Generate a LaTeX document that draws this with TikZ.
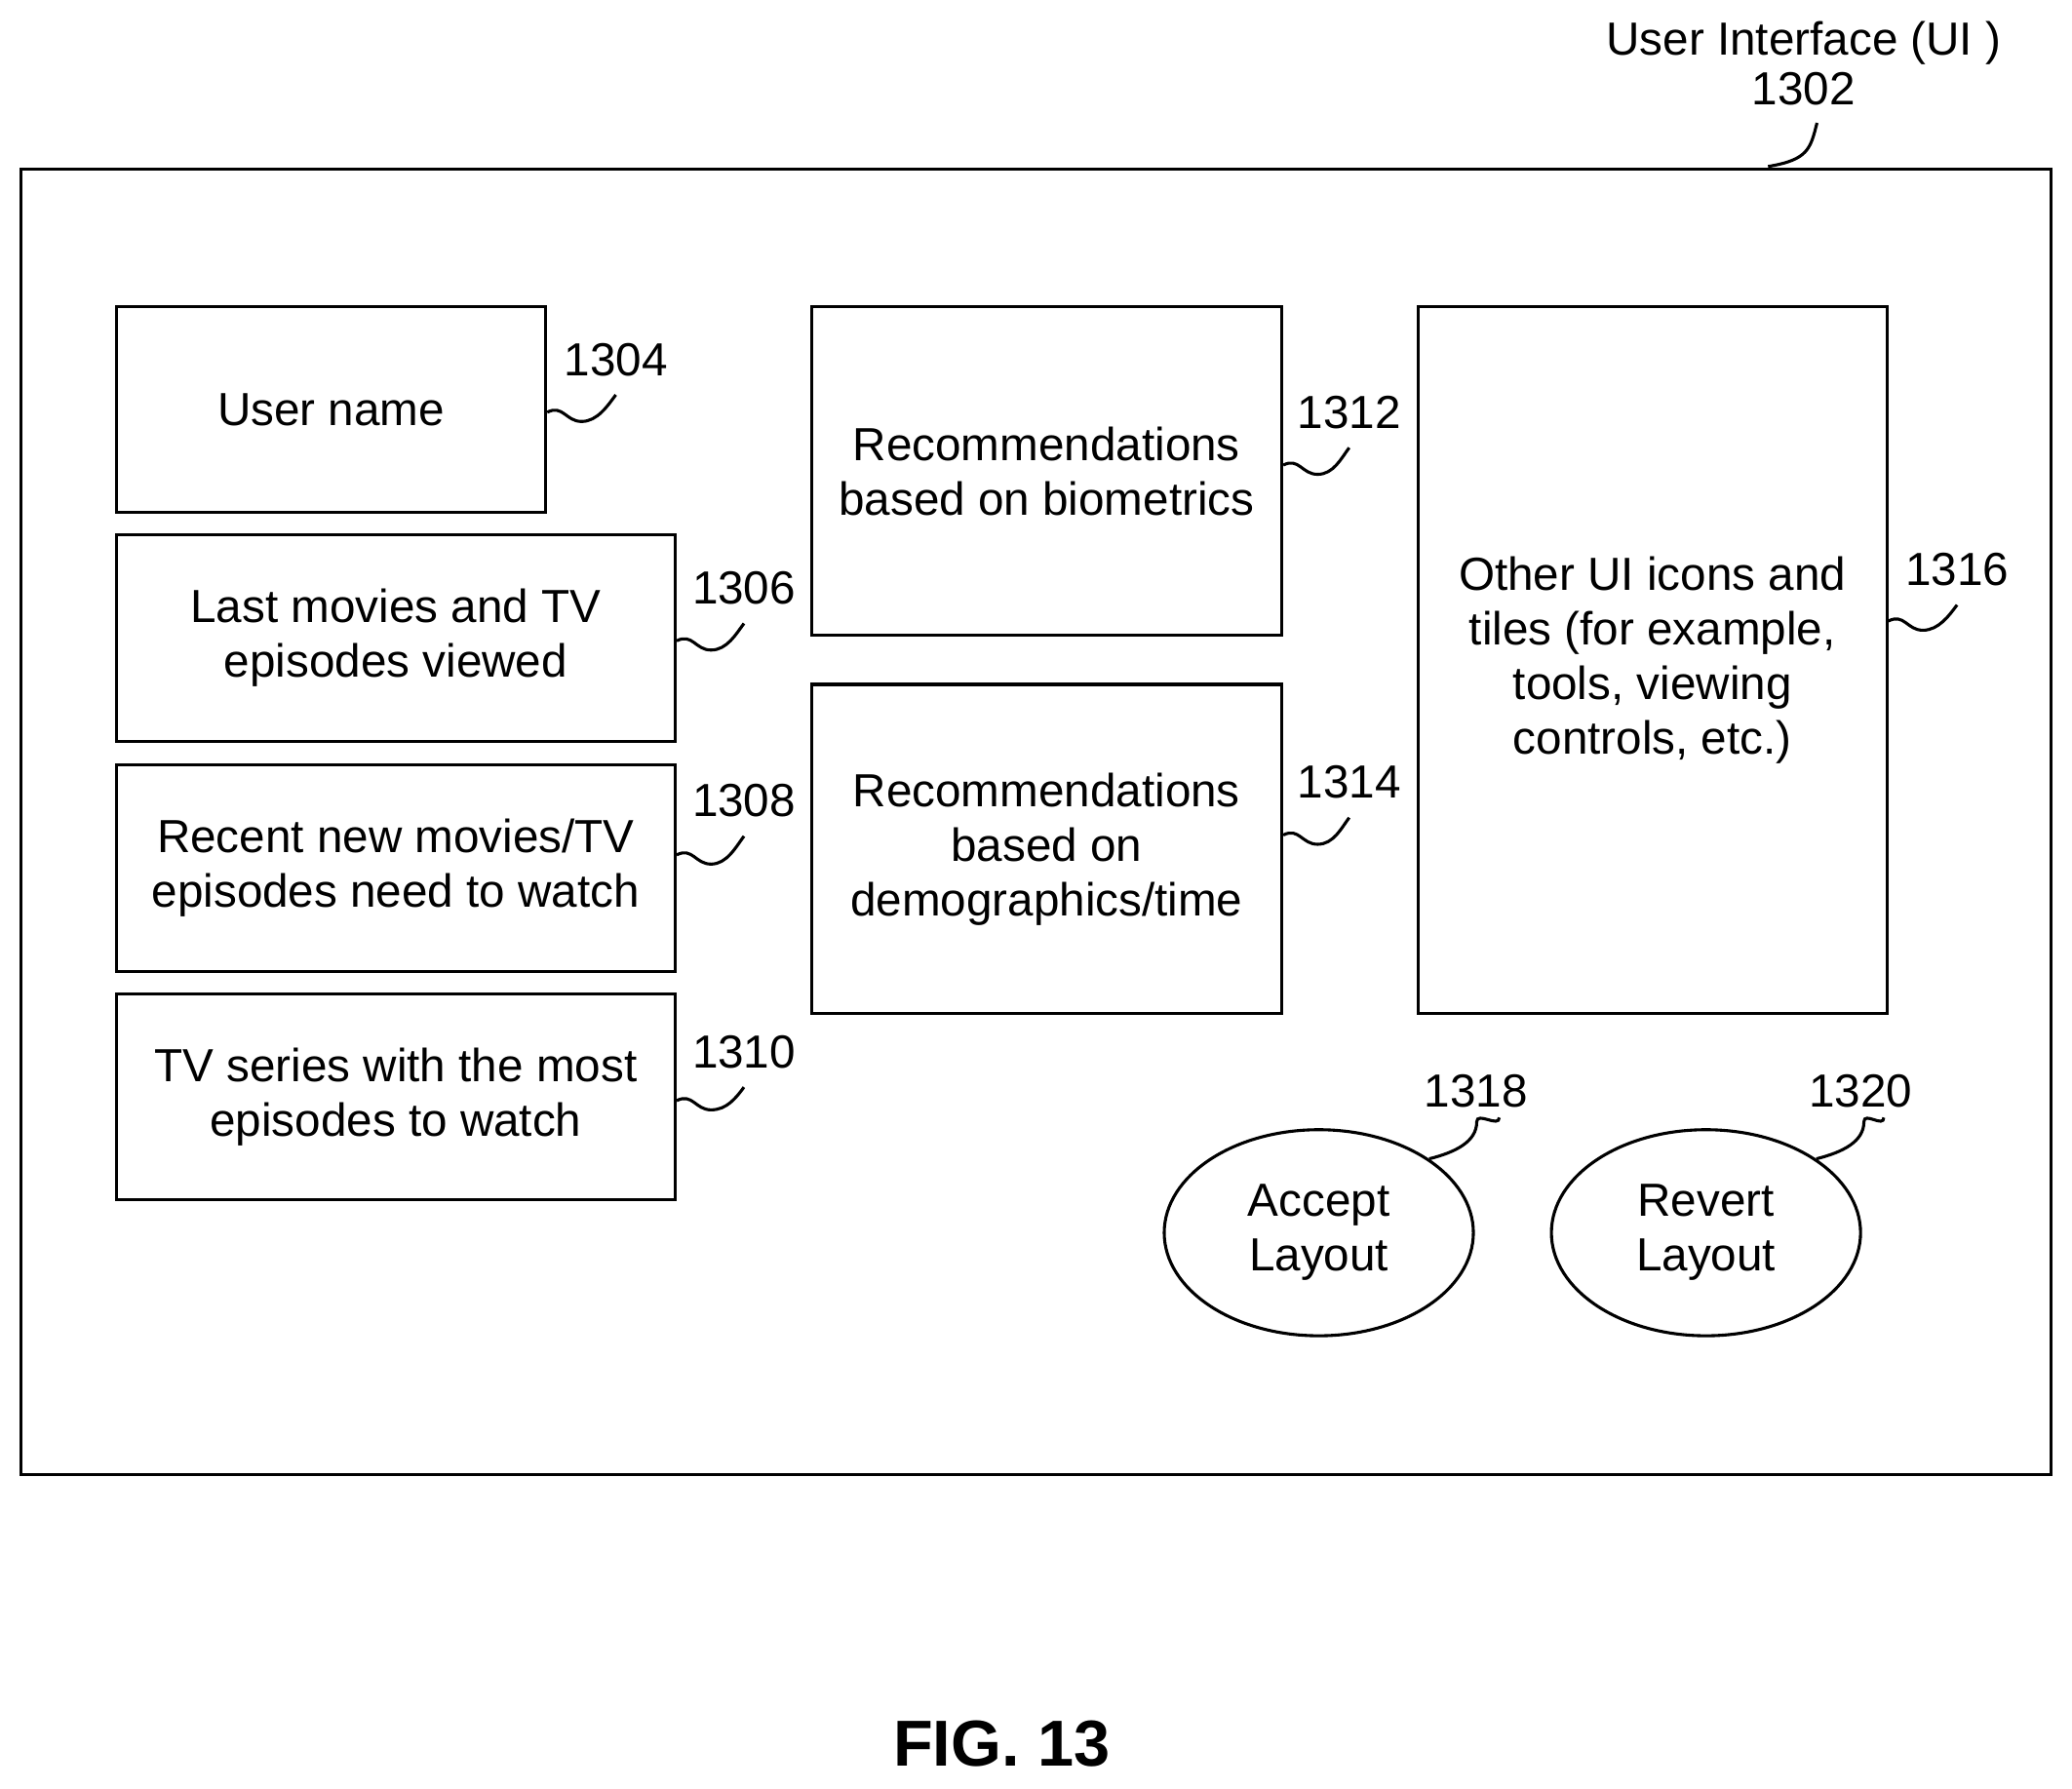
\documentclass[tikz,border=0pt]{standalone}
\usepackage{fontspec}
\setmainfont{Liberation Sans}
\usetikzlibrary{positioning,shapes.geometric}
\tikzset{
    box/.style={draw,line width=1.3pt,align=center,inner sep=0pt},
    oval/.style={draw,ellipse,line width=1.3pt,align=center,inner sep=0pt,
        minimum width=4.68cm,minimum height=3.12cm},
    num/.style={inner sep=1pt},
    wig/.style={line width=1.3pt}
}
\begin{document}
\begin{tikzpicture}[x=0.02cm,y=-0.02cm,font=\fontsize{20}{23.5}\selectfont]
    \useasboundingbox (0,0) rectangle (1568,1354);
    \draw[line width=1.3pt] (16,128) rectangle (1552,1116); %%% UI frame

    \node[align=center] (ui) at (1365,48) {User Interface (UI )\\[-2pt]1302};
    \coordinate (uic) at (1338,126);
    \draw[wig] (uic) .. controls +(30,-5) and +(-5,20) .. (1375,93);

    %%% left column
    \node[box,minimum width=6.5cm,minimum height=3.12cm] (uname) at (250.5,310) {User name};
    \node[box,minimum width=8.46cm,minimum height=3.12cm] (last) at (299.5,483) {Last movies and TV\\episodes viewed};
    \node[box,minimum width=8.46cm,minimum height=3.12cm] (recent) at (299.5,657) {Recent new movies/TV\\episodes need to watch};
    \node[box,minimum width=8.46cm,minimum height=3.12cm] (series) at (299.5,830) {TV series with the most\\episodes to watch};

    %%% middle column
    \node[box,minimum width=7.12cm,minimum height=4.98cm] (bio) at (792,356.5) {Recommendations\\based on biometrics};
    \node[box,minimum width=7.12cm,minimum height=4.98cm] (demo) at (792,642.5) {Recommendations\\based on\\demographics/time};

    %%% right column
    \node[box,minimum width=7.1cm,minimum height=10.7cm] (other) at (1250.5,499.5) {Other UI icons and\\tiles (for example,\\tools, viewing\\controls, etc.)};

    \node[oval] (accept) at (998,933) {Accept\\Layout};
    \node[oval] (revert) at (1291,933) {Revert\\Layout};

    %%% reference numerals
    \node[num] (n1304) at (466,272) {1304};
    \node[num] (n1306) at (563,445) {1306};
    \node[num] (n1308) at (563,606) {1308};
    \node[num] (n1310) at (563,796) {1310};
    \node[num] (n1312) at (1021,312) {1312};
    \node[num] (n1314) at (1021,592) {1314};
    \node[num] (n1316) at (1481,431) {1316};
    \node[num] (n1318) at (1117,826) {1318};
    \node[num] (n1320) at (1408,826) {1320};

    \foreach \b/\n/\y in {uname/n1304/312,last/n1306/485,recent/n1308/647,series/n1310/833,
        bio/n1312/352,demo/n1314/632,other/n1316/470}{
        \draw[wig] (\b.east |- 0,\y) .. controls +(12,-6) and +(-12,0) .. +(26,7)
            .. controls +(12,0) and +(-6,8) .. ([yshift=-7pt] \n.south);
    }
    \draw[wig] (accept.north east) .. controls +(20,-5) and +(0,15) .. +(36,-28)
        .. controls +(0,-8) and +(0,8) .. ([xshift=10,yshift=-3pt] n1318.south);
    \draw[wig] (revert.north east) .. controls +(20,-5) and +(0,15) .. +(36,-28)
        .. controls +(0,-8) and +(0,8) .. ([xshift=10,yshift=-3pt] n1320.south);

    \node[font=\fontsize{28}{30}\selectfont\bfseries] (fig) at (758,1320) {FIG. 13};
\end{tikzpicture}
\end{document}
